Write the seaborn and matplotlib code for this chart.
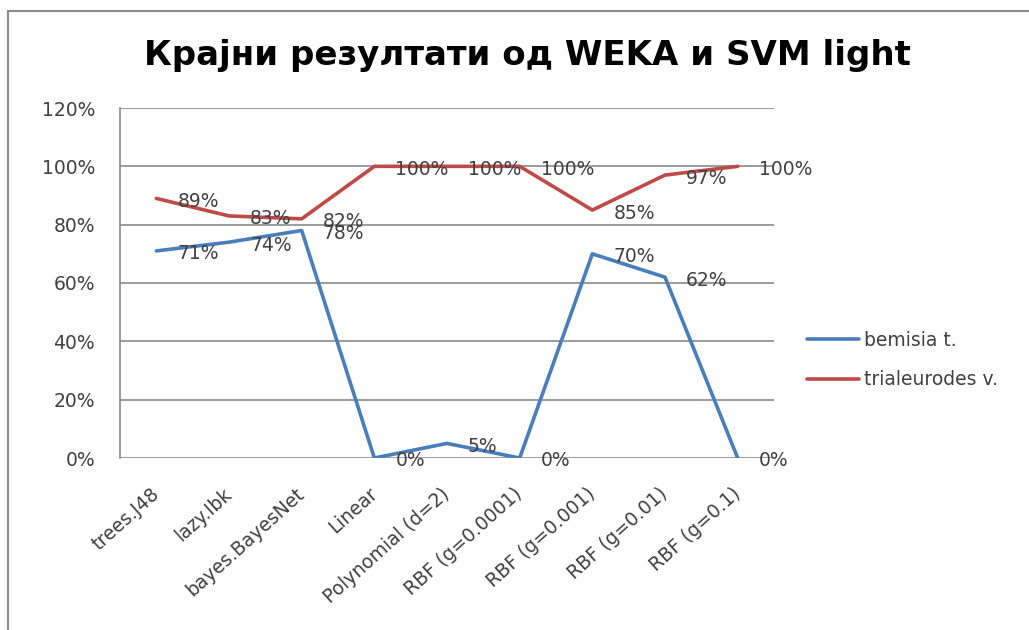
import matplotlib
matplotlib.use("Agg")
import matplotlib.pyplot as plt
import seaborn as sns
import pandas as pd
from matplotlib.patches import Rectangle
from matplotlib.lines import Line2D

categories = ["trees.J48", "lazy.Ibk", "bayes.BayesNet", "Linear", "Polynomial (d=2)",
              "RBF (g=0.0001)", "RBF (g=0.001)", "RBF (g=0.01)", "RBF (g=0.1)"]
bemisia = [71, 74, 78, 0, 5, 0, 70, 62, 0]
trialeurodes = [89, 83, 82, 100, 100, 100, 85, 97, 100]
series_names = ["bemisia t.", "trialeurodes v."]
colors = {"bemisia t.": "#4A7EBB", "trialeurodes v.": "#BE4B48"}
title = "Крајни резултати од WEKA и SVM light"

sns.set_theme(style="white")
plt.rcParams['font.family'] = ['DejaVu Sans']
txt = "#404040"

df = pd.DataFrame({
    "x": list(range(len(categories))) * 2,
    "value": bemisia + trialeurodes,
    "series": [series_names[0]] * len(bemisia) + [series_names[1]] * len(trialeurodes),
})

fig = plt.figure(figsize=(10.29, 6.3), dpi=100)
ax = fig.add_axes([120/1029, 1-458/630, 654/1029, 350/630])

# outer frame
fig.patches.append(Rectangle((8/1029, -0.1), 1.2, 1 - 11/630 + 0.1, transform=fig.transFigure,
                             fill=False, edgecolor="#8C8C8C", linewidth=1.5))

for y in range(0, 121, 20):
    ax.axhline(y, color="#8A8A8A", linewidth=1.2, zorder=0)

sns.lineplot(data=df, x="x", y="value", hue="series", palette=colors, linewidth=2.6,
             ax=ax, legend=False, zorder=3)

for _, r in df.iterrows():
    ax.annotate(f"{r['value']:.0f}%", (r["x"], r["value"]), xytext=(21, -3),
                textcoords="offset pixels", ha="left", va="center", fontsize=13.5,
                color=txt, zorder=5)

ax.set_xlim(-0.5, len(categories) - 0.5)
ax.set_ylim(0, 120)
ax.set_yticks(range(0, 121, 20))
ax.set_yticklabels([f"{v}%" for v in range(0, 121, 20)], fontsize=13.5, color=txt)
ax.set_xticks(range(len(categories)))
ax.set_xticklabels(categories, rotation=42, ha="right", va="center",
                   rotation_mode="anchor", fontsize=13.5, color=txt)
ax.tick_params(axis="y", length=0, pad=18)
ax.tick_params(axis="x", length=0, pad=24)
ax.set_xlabel("")
ax.set_ylabel("")
for s in ["top", "right", "bottom"]:
    ax.spines[s].set_visible(False)
ax.spines["left"].set_color("#8A8A8A")
ax.spines["left"].set_linewidth(1.2)

handles = [Line2D([0], [0], color=colors[n], linewidth=2.6) for n in series_names]
leg = fig.legend(handles, series_names, loc="center left", bbox_to_anchor=(790/1029, 1-360/630),
                 frameon=False, fontsize=13.5, handlelength=2.8, handletextpad=0.25,
                 labelspacing=1.1)
for t in leg.get_texts():
    t.set_color(txt)

fig.text(527/1029, 1-55/630, title, ha="center", va="center", fontsize=24.5,
         fontweight="bold", color="#000000")

fig.savefig("out.png", dpi=100)
